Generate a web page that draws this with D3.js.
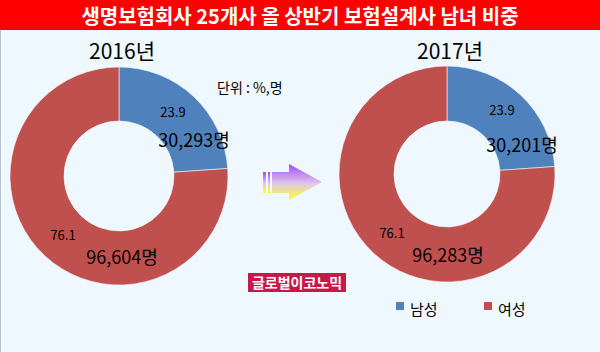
<!DOCTYPE html>
<html>
<head>
<meta charset="utf-8">
<script src="https://cdn.jsdelivr.net/npm/d3@7"></script>
<style>
  body { margin: 0; background: #F0F8FF; }
  text { font-family: "Noto Sans CJK KR", "Noto Sans", sans-serif; }
</style>
</head>
<body>
<script>
'use strict';

var chart = {};
chart.width = 600;
chart.height = 352;

// data
var title = "생명보험회사 25개사 올 상반기 보험설계사 남녀 비중";
var years = ["2016년", "2017년"];
var categories = ["남성", "여성"];
var share2016 = [23.9, 76.1];
var share2017 = [23.9, 76.1];
var people2016 = [30293, 96604];
var people2017 = [30201, 96283];
var colors = ["#4F81BD", "#C0504D"];

chart.appendSVG = function(){
    var svg = d3.select("body").append("svg")
        .attr("width", chart.width)
        .attr("height", chart.height);
    svg.append("rect")
        .attr("width", chart.width).attr("height", chart.height)
        .attr("fill", "#F0F8FF");
    svg.append("line")
        .attr("x1", 0.5).attr("x2", 0.5).attr("y1", 0).attr("y2", chart.height)
        .attr("stroke", "#B8C4D4");
    return svg;
}

chart.createTitle = function(svg){
    svg.append("rect")
        .attr("x", 0).attr("y", 0)
        .attr("width", chart.width).attr("height", 30)
        .attr("fill", "#FF0000");
    svg.append("text")
        .attr("x", 300).attr("y", 23.5)
        .attr("text-anchor", "middle")
        .attr("fill", "#fff")
        .style("font-size", "20px")
        .style("font-weight", "bold")
        .text(title);
}

// one donut: cfg holds geometry and label spots
chart.createDonut = function(svg, cfg, shares, people){
    var pie = d3.pie().sort(null).value(function(d){ return d; });
    var arc = d3.arc().innerRadius(cfg.inner).outerRadius(cfg.outer);
    var g = svg.append("g").attr("transform", "translate(" + cfg.cx + "," + cfg.cy + ")");

    g.selectAll(".slice")
        .data(pie(shares))
        .enter()
            .append("path")
            .classed("slice", true)
            .attr("d", arc)
            .attr("fill", function(d, i){ return colors[i]; })
            .attr("stroke", "#F0F8FF")
            .attr("stroke-width", 0.6);

    g.selectAll(".pct")
        .data(shares)
        .enter()
            .append("text")
            .classed("pct", true)
            .attr("x", function(d, i){ return cfg.pct[i][0]; })
            .attr("y", function(d, i){ return cfg.pct[i][1]; })
            .attr("text-anchor", "middle")
            .style("font-size", "13px")
            .text(function(d){ return d.toFixed(1); });

    g.selectAll(".cnt")
        .data(people)
        .enter()
            .append("text")
            .classed("cnt", true)
            .attr("x", function(d, i){ return cfg.cnt[i][0]; })
            .attr("y", function(d, i){ return cfg.cnt[i][1]; })
            .attr("text-anchor", "middle")
            .style("font-size", "18px")
            .text(function(d){ return d3.format(",")(d) + "명"; });

    svg.append("text")
        .attr("x", cfg.cx + 3).attr("y", 59)
        .attr("text-anchor", "middle")
        .style("font-size", "21px")
        .text(cfg.year);
}

chart.createArrow = function(svg){
    var defs = svg.append("defs");
    var grad = defs.append("linearGradient")
        .attr("id", "arrowGrad")
        .attr("x1", 0).attr("y1", 0).attr("x2", 0).attr("y2", 1);
    grad.append("stop").attr("offset", "0%").attr("stop-color", "#9C4BFF");
    grad.append("stop").attr("offset", "55%").attr("stop-color", "#E0C8E8");
    grad.append("stop").attr("offset", "100%").attr("stop-color", "#FFFF1E");

    var g = svg.append("g").attr("fill", "url(#arrowGrad)");
    g.append("rect").attr("x", 263).attr("y", 172).attr("width", 3).attr("height", 21);
    g.append("rect").attr("x", 268).attr("y", 172).attr("width", 2).attr("height", 21);
    g.append("path")
        .attr("d", "M272,172 L289,172 L289,164 L322,182 L289,200 L289,193 L272,193 Z");
}

chart.createExtras = function(svg){
    svg.append("text")
        .attr("x", 217).attr("y", 93)
        .style("font-size", "14px")
        .text("단위 : %,명");

    svg.append("rect")
        .attr("x", 248).attr("y", 273)
        .attr("width", 98).attr("height", 19)
        .attr("fill", "#C8184A");
    svg.append("text")
        .attr("x", 297).attr("y", 288)
        .attr("text-anchor", "middle")
        .attr("fill", "#fff")
        .style("font-size", "14px")
        .style("font-weight", "bold")
        .text("글로벌이코노믹");
}

chart.createLegend = function(svg){
    var lg = svg.selectAll(".legend")
        .data(categories)
        .enter()
            .append("g")
            .classed("legend", true)
            .attr("transform", function(d, i){ return "translate(" + (396 + i * 88) + ",302)"; });
    lg.append("rect")
        .attr("width", 8).attr("height", 8)
        .attr("fill", function(d, i){ return colors[i]; });
    lg.append("text")
        .attr("x", 14).attr("y", 13)
        .style("font-size", "15px")
        .text(function(d){ return d; });
}

chart.run = function(){
    var svg = chart.appendSVG();
    chart.createTitle(svg);
    chart.createDonut(svg, {
        cx: 119, cy: 176, outer: 109, inner: 55, year: years[0],
        pct: [[54, -59], [-56, 64]],
        cnt: [[75, -29], [3, 88]]
    }, share2016, people2016);
    chart.createDonut(svg, {
        cx: 447, cy: 174, outer: 108, inner: 53, year: years[1],
        pct: [[55, -59], [-55, 64]],
        cnt: [[75, -22], [1, 88]]
    }, share2017, people2017);
    chart.createArrow(svg);
    chart.createExtras(svg);
    chart.createLegend(svg);
}

window.onload = chart.run;
</script>
</body>
</html>
